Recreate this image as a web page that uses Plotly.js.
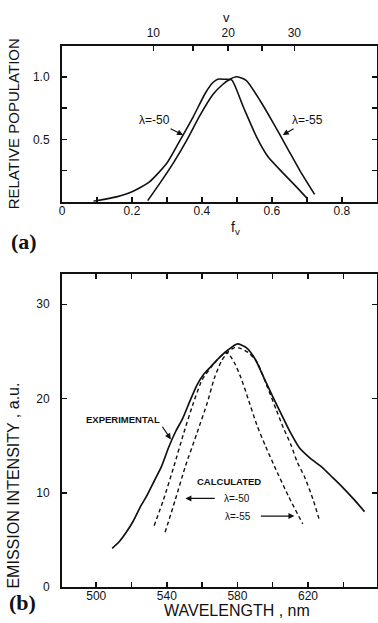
<!DOCTYPE html>
<html>
<head>
<meta charset="utf-8">
<script src="https://cdn.plot.ly/plotly-3.0.1.min.js"></script>
<style>html,body{margin:0;padding:0;background:#fff;}#chart{width:378px;height:623px;}</style>
</head>
<body>
<div id="chart"></div>
<script>
// ---- Panel (a): relative population vs f_v ----
const fv50  = [0.09, 0.12, 0.156, 0.20, 0.25, 0.30, 0.337, 0.375, 0.41, 0.43, 0.445, 0.465, 0.485, 0.518, 0.556, 0.589, 0.632, 0.67, 0.70];
const pop50 = [0.005, 0.02, 0.04, 0.08, 0.16, 0.31, 0.49, 0.68, 0.87, 0.95, 0.98, 0.98, 0.975, 0.76, 0.52, 0.36, 0.23, 0.12, 0.03];
const fv55  = [0.245, 0.28, 0.318, 0.356, 0.394, 0.432, 0.46, 0.48, 0.499, 0.527, 0.566, 0.604, 0.642, 0.68, 0.722];
const pop55 = [0.01, 0.15, 0.31, 0.49, 0.69, 0.86, 0.94, 0.98, 1.0, 0.97, 0.81, 0.63, 0.44, 0.25, 0.06];

// ---- Panel (b): emission intensity vs wavelength ----
const wlExp  = [509, 513, 517, 521, 525, 529, 533, 537, 541, 545, 549, 553, 557, 561, 565, 570, 575, 580, 585, 590, 595, 600, 605, 610, 615, 621, 628, 634, 640, 646, 652];
const intExp = [4.1, 4.8, 5.8, 7.0, 8.5, 9.8, 11.3, 12.8, 14.8, 16.5, 17.9, 19.7, 21.4, 22.6, 23.4, 24.4, 25.2, 25.8, 25.4, 24.2, 22.2, 20.2, 18.3, 16.4, 14.8, 13.7, 12.7, 11.6, 10.5, 9.3, 8.0];
const wlCalc50  = [539, 544.7, 550.5, 557, 563, 567, 571, 575, 578.5, 582, 586, 591, 597, 602, 606, 610.5, 614, 618, 623, 626.6];
const intCalc50 = [5.8, 9.2, 12.8, 16.3, 19.6, 22.2, 24.0, 25.0, 25.4, 25.3, 24.9, 23.9, 21.2, 18.8, 16.9, 15.0, 13.2, 11.7, 9.2, 7.0];
const wlCalc55  = [532.8, 538, 544, 549.5, 555, 560, 565, 570, 574, 578, 582, 586, 591, 596, 601, 609, 617];
const intCalc55 = [6.5, 9.2, 12.8, 16.3, 19.5, 22.0, 23.3, 24.4, 24.9, 23.9, 22.2, 20.0, 17.2, 14.9, 12.8, 9.6, 6.7];

// ---- Tick values / labels (major = labelled, minor = unlabelled) ----
const fvTickVals   = [0, 0.2, 0.4, 0.6, 0.8];
const fvTickText   = ['0', '0.2', '0.4', '0.6', '0.8'];
const fvMinorVals  = [0.1, 0.3, 0.5, 0.7];
const vTickPos     = [0.261, 0.475, 0.664];   // f_v position of v = 10, 20, 30
const vTickText    = ['10', '20', '30'];
const vMinorPos    = [0.375, 0.571];          // f_v position of v = 15, 25
const popTickVals  = [0.5, 1.0];
const popTickText  = ['0.5', '1.0'];
const popMinorVals = [0.25, 0.75];
const wlTickVals   = [500, 540, 580, 620];
const wlTickText   = ['500', '540', '580', '620'];
const wlMinorVals  = [520, 560, 600, 640];
const intTickVals  = [0, 10, 20, 30];
const intTickText  = ['0', '10', '20', '30'];

const INK = '#111';
const FONT = 'Liberation Sans, Arial, sans-serif';

const traces = [
  {x: fv50, y: pop50, xaxis: 'x', yaxis: 'y', mode: 'lines', line: {color: INK, width: 1.6, shape: 'spline', smoothing: 0.6}},
  {x: fv55, y: pop55, xaxis: 'x', yaxis: 'y', mode: 'lines', line: {color: INK, width: 1.6, shape: 'spline', smoothing: 0.6}},
  // carrier for the top v-axis (no visible marks)
  {x: [null], y: [null], xaxis: 'x3', yaxis: 'y', mode: 'lines', hoverinfo: 'skip', line: {width: 0}},
  {x: wlExp, y: intExp, xaxis: 'x2', yaxis: 'y2', mode: 'lines', line: {color: INK, width: 1.7, shape: 'spline', smoothing: 0.6}},
  {x: wlCalc50, y: intCalc50, xaxis: 'x2', yaxis: 'y2', mode: 'lines', line: {color: INK, width: 1.4, dash: '4px,3px', shape: 'spline', smoothing: 0.6}},
  {x: wlCalc55, y: intCalc55, xaxis: 'x2', yaxis: 'y2', mode: 'lines', line: {color: INK, width: 1.4, dash: '4px,3px', shape: 'spline', smoothing: 0.6}}
];

const axBase = {
  showline: true, linewidth: 2, linecolor: INK, showgrid: false, zeroline: false,
  ticks: 'inside', ticklen: 5, tickwidth: 1.5, tickcolor: INK, tickmode: 'array',
  tickfont: {family: FONT, size: 12, color: INK}
};
function minor(vals) {
  return {tickmode: 'array', tickvals: vals, ticks: 'inside', ticklen: 5, tickwidth: 1.5, tickcolor: INK, showgrid: false};
}

const arrowStyle = {showarrow: true, arrowhead: 2, arrowsize: 1, arrowwidth: 1.2, arrowcolor: INK};

const layout = {
  width: 378, height: 623,
  margin: {l: 0, r: 0, t: 0, b: 0},
  paper_bgcolor: '#fff', plot_bgcolor: '#fff',
  showlegend: false,
  font: {family: FONT, color: INK, size: 12},
  xaxis: Object.assign({}, axBase, {domain: [0.164, 0.997], anchor: 'y', range: [0, 0.9], tickvals: fvTickVals, ticktext: fvTickText, minor: minor(fvMinorVals), ticklabelstandoff: -3}),
  xaxis3: Object.assign({}, axBase, {overlaying: 'x', anchor: 'y', side: 'top', range: [0, 0.9], tickvals: vTickPos, ticktext: vTickText, minor: minor(vMinorPos), ticklabelstandoff: 2}),
  yaxis: Object.assign({}, axBase, {domain: [0.676, 0.926], anchor: 'x', range: [0, 1.245], tickvals: popTickVals, ticktext: popTickText, minor: minor(popMinorVals), mirror: 'ticks', ticklabelstandoff: 8}),
  xaxis2: Object.assign({}, axBase, {domain: [0.164, 0.997], anchor: 'y2', range: [480.6, 659], tickvals: wlTickVals, ticktext: wlTickText, minor: minor(wlMinorVals), mirror: 'ticks', ticklabelstandoff: -3}),
  yaxis2: Object.assign({}, axBase, {domain: [0.0578, 0.560], anchor: 'x2', range: [0, 33.2], tickvals: intTickVals, ticktext: intTickText, mirror: 'ticks', ticklabelstandoff: 8}),
  annotations: [
    // axis titles
    {xref: 'paper', yref: 'paper', x: 0.038, y: 0.801, text: 'RELATIVE POPULATION', textangle: -90, showarrow: false, font: {size: 15}, xanchor: 'center', yanchor: 'middle'},
    {xref: 'paper', yref: 'paper', x: 0.036, y: 0.220, text: 'EMISSION INTENSITY , a.u.', textangle: -90, showarrow: false, font: {size: 16}, xanchor: 'center', yanchor: 'middle'},
    {xref: 'paper', yref: 'paper', x: 0.627, y: 0.020, text: 'WAVELENGTH , nm', showarrow: false, font: {size: 16}, xanchor: 'center', yanchor: 'middle'},
    {xref: 'paper', yref: 'paper', x: 0.622, y: 0.634, text: 'f<sub>v</sub>', showarrow: false, font: {size: 14}, xanchor: 'center', yanchor: 'middle'},
    {xref: 'paper', yref: 'paper', x: 0.598, y: 0.972, text: 'v', showarrow: false, font: {size: 13}, xanchor: 'center', yanchor: 'middle'},
    {xref: 'paper', yref: 'paper', x: 0.064, y: 0.612, text: '(a)', showarrow: false, font: {family: 'Liberation Serif, serif', size: 22, weight: 'bold'}, xanchor: 'center', yanchor: 'middle'},
    {xref: 'paper', yref: 'paper', x: 0.060, y: 0.033, text: '(b)', showarrow: false, font: {family: 'Liberation Serif, serif', size: 22, weight: 'bold'}, xanchor: 'center', yanchor: 'middle'},
    // panel (a) labels with arrows
    Object.assign({xref: 'x', yref: 'y', x: 0.346, y: 0.534, ax: 0.263, ay: 0.653, axref: 'x', ayref: 'y', text: 'λ=-50', font: {size: 12}}, arrowStyle),
    Object.assign({xref: 'x', yref: 'y', x: 0.631, y: 0.534, ax: 0.703, ay: 0.653, axref: 'x', ayref: 'y', text: 'λ=-55', font: {size: 12}}, arrowStyle),
    // panel (b) labels
    Object.assign({xref: 'x2', yref: 'y2', x: 542.3, y: 15.66, ax: 537.5, ay: 17.0, axref: 'x2', ayref: 'y2', xanchor: 'right', yanchor: 'bottom', text: '<b>EXPERIMENTAL</b>', font: {size: 9.5}}, arrowStyle),
    {xref: 'x2', yref: 'y2', x: 575.3, y: 11.17, text: '<b>CALCULATED</b>', showarrow: false, font: {size: 9.5}},
    Object.assign({xref: 'x2', yref: 'y2', x: 550.5, y: 9.4, ax: 579.9, ay: 9.4, axref: 'x2', ayref: 'y2', text: 'λ=-50', font: {size: 10}, startstandoff: 8}, arrowStyle),
    Object.assign({xref: 'x2', yref: 'y2', x: 612.3, y: 7.53, ax: 580.5, ay: 7.53, axref: 'x2', ayref: 'y2', text: 'λ=-55', font: {size: 10}, startstandoff: 8}, arrowStyle)
  ]
};

Plotly.newPlot('chart', traces, layout, {staticPlot: true, displayModeBar: false});
</script>
</body>
</html>
